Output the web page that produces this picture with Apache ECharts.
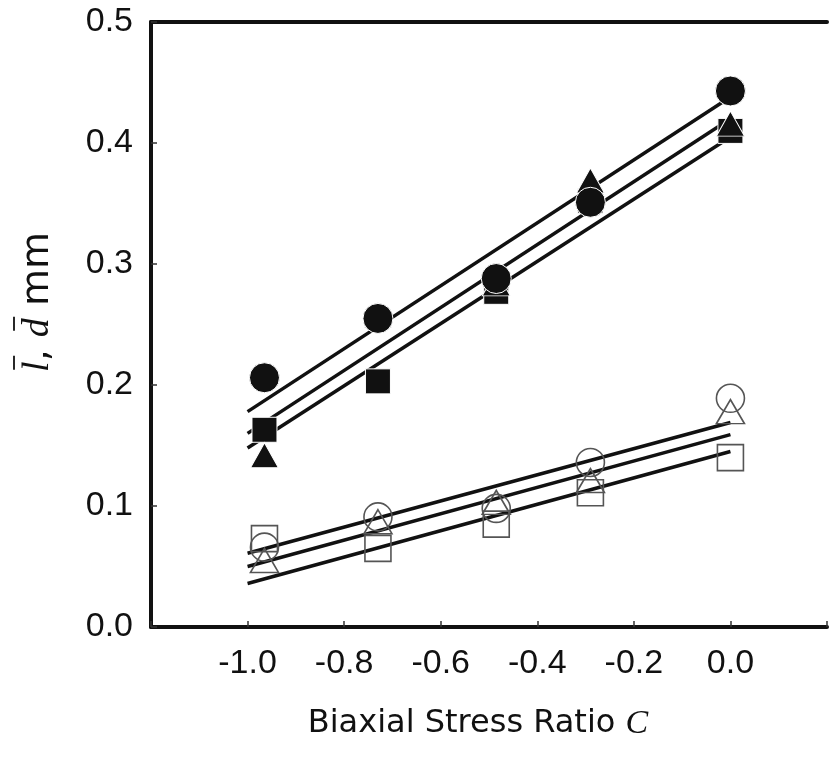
<!DOCTYPE html>
<html>
<head>
<meta charset="utf-8">
<script src="https://cdn.jsdelivr.net/npm/echarts@6/dist/echarts.min.js"></script>
<style>
  html, body { margin: 0; padding: 0; background: #fff; }
  #chart { width: 830px; height: 761px; }
</style>
</head>
<body>
<div id="chart"></div>
<script>
// Biaxial stress ratio C at which each test was run
const stressRatio = [-0.965, -0.73, -0.485, -0.29, 0.0];

// Filled symbols (upper group)
const filledCircle   = [0.206, 0.255, 0.288, 0.351, 0.443];
const filledTriangle = [0.142, 0.258, 0.284, 0.369, 0.416];
const filledSquare   = [0.163, 0.203, 0.277, 0.352, 0.410];

// Open symbols (lower group)
const openCircle   = [0.066, 0.091, 0.098, 0.136, 0.189];
const openTriangle = [0.055, 0.087, 0.103, 0.121, 0.178];
const openSquare   = [0.073, 0.065, 0.085, 0.111, 0.140];

// Straight-line fits, given by their end values at C = -1.0 and C = 0.0
const fitRange = [-1.0, 0.0];
const fitFilledCircle   = [0.178, 0.438];
const fitFilledTriangle = [0.160, 0.420];
const fitFilledSquare   = [0.148, 0.405];
const fitOpenCircle     = [0.061, 0.169];
const fitOpenTriangle   = [0.050, 0.159];
const fitOpenSquare     = [0.036, 0.145];

// Axis ticks
const xTicks = { min: -1.2, max: 0.2, step: 0.2 };
const yTicks = { min: 0, max: 0.5, step: 0.1 };

const INK = '#111';
const OPEN_INK = '#555';
const NUM_FONT = 'Liberation Sans';

function pts(ys) { return stressRatio.map((x, i) => [x, ys[i]]); }
function fitPts(ys) { return fitRange.map((x, i) => [x, ys[i]]); }

function fitLine(ys) {
  return {
    type: 'line', data: fitPts(ys), symbol: 'none', silent: true, z: 2,
    lineStyle: { color: INK, width: 3.5 }
  };
}
function filled(ys, symbol, size) {
  return {
    type: 'scatter', data: pts(ys), symbol: symbol, symbolSize: size, z: 3,
    itemStyle: { color: INK, borderColor: '#fff', borderWidth: 1, opacity: 1 }
  };
}
function hollow(ys, symbol, size) {
  return {
    type: 'scatter', data: pts(ys), symbol: symbol, symbolSize: size, z: 3,
    itemStyle: { color: 'rgba(0,0,0,0)', borderColor: OPEN_INK, borderWidth: 1.6, opacity: 1 }
  };
}

// Y-axis title: italic l and d, each with an overbar, then "mm"
const measureCtx = document.createElement('canvas').getContext('2d');
function textWidth(font, s) { measureCtx.font = font; return measureCtx.measureText(s).width; }
const TITLE_SIZE = 38;
const serifItalic = 'italic ' + TITLE_SIZE + 'px "Liberation Serif"';
const sansFont = TITLE_SIZE + 'px "DejaVu Sans"';
const yTitleParts = [
  { s: 'l', font: serifItalic, bar: true },
  { s: ', ', font: sansFont, bar: false },
  { s: 'd', font: serifItalic, bar: true },
  { s: ' mm', font: sansFont, bar: false }
];
const totalW = yTitleParts.reduce((a, p) => a + textWidth(p.font, p.s), 0);
let cursor = -totalW / 2;
const yTitleChildren = [];
yTitleParts.forEach(p => {
  const w = textWidth(p.font, p.s);
  yTitleChildren.push({
    type: 'text', x: cursor, y: 0,
    style: { text: p.s, font: p.font, fill: INK, align: 'left', verticalAlign: 'middle' }
  });
  if (p.bar) {
    const mid = cursor + w / 2 + 4;
    yTitleChildren.push({
      type: 'line',
      shape: { x1: mid - 7, y1: -24, x2: mid + 7, y2: -24 },
      style: { stroke: INK, lineWidth: 1.8 }
    });
  }
  cursor += w;
});

const chart = echarts.init(document.getElementById('chart'), null, { renderer: 'canvas' });

chart.setOption({
  animation: false,
  backgroundColor: '#fff',
  grid: { left: 151, top: 22, width: 682, height: 605, containLabel: false },
  xAxis: [{
    type: 'value', min: xTicks.min, max: xTicks.max, interval: xTicks.step,
    name: 'Biaxial Stress Ratio {c|C}', nameLocation: 'middle', nameGap: 80,
    nameTextStyle: {
      fontFamily: 'DejaVu Sans', fontSize: 32, color: INK, padding: [0, 22, 0, 0],
      rich: { c: { fontFamily: 'Liberation Serif', fontStyle: 'italic', fontSize: 34, color: INK } }
    },
    axisLine: { show: true, onZero: false, lineStyle: { color: INK, width: 4 } },
    axisTick: { show: true, inside: true, length: 6, lineStyle: { color: '#333', width: 1.5 } },
    axisLabel: {
      fontFamily: NUM_FONT, fontSize: 34, color: INK, margin: 20,
      formatter: v => (v < -1.05 || v > 0.05) ? '' : (Math.abs(v) < 1e-9 ? '0.0' : v.toFixed(1))
    },
    splitLine: { show: false }
  }, {
    type: 'value', position: 'top', min: xTicks.min, max: xTicks.max,
    axisLine: { show: true, onZero: false, lineStyle: { color: INK, width: 4 } },
    axisTick: { show: false }, axisLabel: { show: false }, splitLine: { show: false }
  }],
  yAxis: {
    type: 'value', min: yTicks.min, max: yTicks.max, interval: yTicks.step,
    axisLine: { show: true, onZero: false, lineStyle: { color: INK, width: 4 } },
    axisTick: { show: true, inside: true, length: 6, lineStyle: { color: '#333', width: 1.5 } },
    axisLabel: {
      fontFamily: NUM_FONT, fontSize: 34, color: INK, margin: 18,
      formatter: v => v.toFixed(1)
    },
    splitLine: { show: false }
  },
  graphic: [{
    type: 'group', x: 38, y: 302, rotation: Math.PI / 2,
    children: yTitleChildren
  }],
  series: [
    fitLine(fitFilledCircle), fitLine(fitFilledTriangle), fitLine(fitFilledSquare),
    fitLine(fitOpenCircle), fitLine(fitOpenTriangle), fitLine(fitOpenSquare),
    filled(filledSquare, 'rect', 25),
    filled(filledTriangle, 'triangle', [28, 25]),
    filled(filledCircle, 'circle', 30),
    hollow(openSquare, 'rect', 26),
    hollow(openTriangle, 'triangle', [28, 24]),
    hollow(openCircle, 'circle', 28)
  ]
});
</script>
</body>
</html>
